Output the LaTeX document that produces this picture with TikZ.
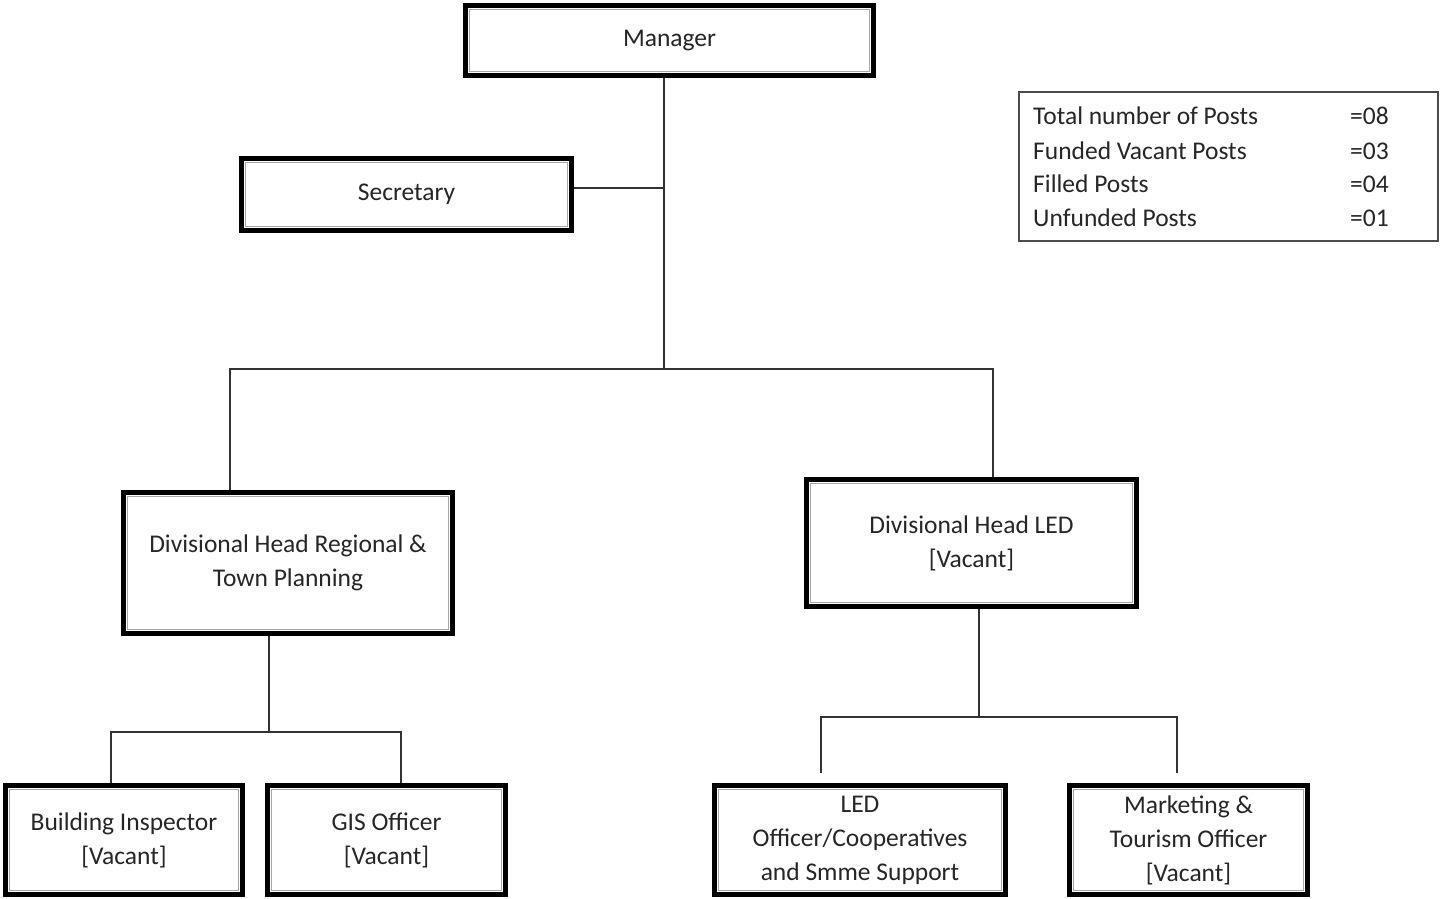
\documentclass[tikz,border=0pt]{standalone}
\usepackage{fontspec}
\setmainfont{Carlito}
\begin{document}
\begin{tikzpicture}[x=1pt,y=-1pt,
  post/.style={draw=black, line width=5pt, fill=white, inner sep=0pt,
    align=center, text=black!85, font=\fontsize{25.5}{34}\selectfont,
    path picture={\draw[black!35, line width=1.2pt]
      ([shift={(4,4)}]path picture bounding box.north west) rectangle
      ([shift={(-4,-4)}]path picture bounding box.south east);}},
  link/.style={line width=1.8pt, draw=black!80},
  keytext/.style={anchor=base west, inner sep=0pt, text=black!85,
    font=\fontsize{25.5}{34}\selectfont}]
\useasboundingbox (0,0) rectangle (1442,898);

% posts
\node[post, minimum width=408pt, minimum height=70pt]  (mgr)    at (669.5,40.5) {Manager};
\node[post, minimum width=330pt, minimum height=72pt]  (sec)    at (406.5,194.5) {Secretary};
\node[post, minimum width=329pt, minimum height=141pt] (divreg) at (288,563) {Divisional Head Regional \&\\Town Planning};
\node[post, minimum width=330pt, minimum height=127pt] (divled) at (971.5,543) {Divisional Head LED\\{[}Vacant{]}};
\node[post, minimum width=237pt, minimum height=109pt] (bld)    at (124,840) {Building Inspector\\{[}Vacant{]}};
\node[post, minimum width=238pt, minimum height=109pt] (gis)    at (386.5,840) {GIS Officer\\{[}Vacant{]}};
\node[post, minimum width=291pt, minimum height=109pt] (ledo)   at (860,840) {LED\\Officer/Cooperatives\\and Smme Support};
\node[post, minimum width=238pt, minimum height=109pt] (mkt)    at (1188.5,840) {Marketing \&\\Tourism Officer\\{[}Vacant{]}};

% summary of posts
\node[draw=black!70, line width=2pt, fill=white, minimum width=419pt, minimum height=149pt]
  (key) at (1228.5,166.5) {};
\node[keytext] (k1) at (1033,124) {Total number of Posts};
\node[keytext] (k2) at (1033,159) {Funded Vacant Posts};
\node[keytext] (k3) at (1033,192) {Filled Posts};
\node[keytext] (k4) at (1033,226) {Unfunded Posts};
\node[keytext] (v1) at (1350,124) {=08};
\node[keytext] (v2) at (1350,159) {=03};
\node[keytext] (v3) at (1350,192) {=04};
\node[keytext] (v4) at (1350,226) {=01};

% junction points
\coordinate (hub) at (664,369);
\coordinate (sj)  at (664,188);
\coordinate (bl)  at (230,369);
\coordinate (br)  at (993,369);
\coordinate (rj)  at (269,732);
\coordinate (rl)  at (111,732);
\coordinate (rr)  at (401,732);
\coordinate (lj)  at (979,717);
\coordinate (ll)  at (821,717);
\coordinate (lr)  at (1177,717);
\coordinate (le1) at (821,773);
\coordinate (le2) at (1177,773);

% reporting lines
\draw[link] (mgr.south -| hub) -- (hub);
\draw[link] (sec.east |- sj) -- (sj);
\draw[link] (bl |- divreg.north) -- (bl) -- (br) -- (br |- divled.north);
\draw[link] (divreg.south -| rj) -- (rj);
\draw[link] (bld.north -| rl) -- (rl) -- (rr) -- (gis.north -| rr);
\draw[link] (divled.south -| lj) -- (lj);
\draw[link] (le1) -- (ll) -- (lr) -- (le2);
\end{tikzpicture}
\end{document}
